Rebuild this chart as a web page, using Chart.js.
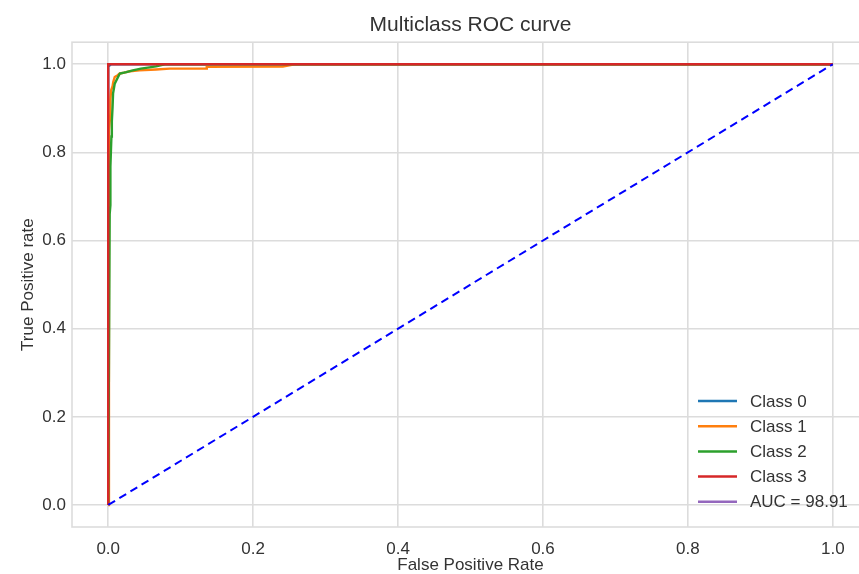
<!DOCTYPE html>
<html>
<head>
<meta charset="utf-8">
<title>Multiclass ROC curve</title>
<script src="https://cdn.jsdelivr.net/npm/chart.js@4.4.0/dist/chart.umd.min.js"></script>
<style>
    html, body { margin: 0; padding: 0; background: #fff; overflow: hidden; }
    #wrap { width: 859px; height: 574px; overflow: hidden; }
</style>
</head>
<body>
<div id="wrap"><canvas id="rocChart" width="880" height="574"></canvas></div>
<script>
// Curve data
const classLabels = ['Class 0', 'Class 1', 'Class 2', 'Class 3'];
const classColors = ['#1f77b4', '#ff7f0e', '#2ca02c', '#d62728'];

const class0Fpr = [0, 0, 0.004, 1];
const class0Tpr = [0, 0.995, 1, 1];

const class1Fpr = [0, 0.001, 0.003, 0.003, 0.004, 0.006, 0.007, 0.009, 0.013, 0.016, 0.022, 0.03, 0.043, 0.066, 0.085, 0.136, 0.136, 0.241, 0.257, 1];
const class1Tpr = [0, 0.85, 0.889, 0.92, 0.941, 0.95, 0.96, 0.971, 0.975, 0.979, 0.981, 0.984, 0.986, 0.988, 0.99, 0.99, 0.994, 0.995, 1, 1];

const class2Fpr = [0, 0.002, 0.003, 0.003, 0.0044, 0.005, 0.006, 0.0067, 0.009, 0.016, 0.025, 0.034, 0.045, 0.057, 0.066, 0.078, 1];
const class2Tpr = [0, 0.66, 0.68, 0.768, 0.836, 0.87, 0.903, 0.934, 0.956, 0.979, 0.982, 0.986, 0.99, 0.993, 0.995, 1, 1];

const class3Fpr = [0, 0, 1];
const class3Tpr = [0, 1, 1];

const chanceFpr = [0, 1];
const chanceTpr = [0, 1];

const aucLabel = 'AUC = 98.91';
const aucColor = '#9467bd';

const xTicks = [0, 0.2, 0.4, 0.6, 0.8, 1.0];
const yTicks = [0, 0.2, 0.4, 0.6, 0.8, 1.0];

const textColor = '#333333';
const gridColor = '#dcdcdc';
const fontFamily = "'Liberation Sans', Arial, sans-serif";

const toPoints = (xs, ys) => xs.map((x, i) => ({ x: x, y: ys[i] }));

const fprs = [class0Fpr, class1Fpr, class2Fpr, class3Fpr];
const tprs = [class0Tpr, class1Tpr, class2Tpr, class3Tpr];

const datasets = classLabels.map((label, i) => ({
    label: label,
    data: toPoints(fprs[i], tprs[i]),
    borderColor: classColors[i],
    borderWidth: 2.4,
    pointRadius: 0,
    tension: 0,
    fill: false,
    order: 4 - i
}));

datasets.push({
    label: aucLabel,
    data: [],
    borderColor: aucColor,
    borderWidth: 2.4,
    pointRadius: 0,
    order: 0
});

datasets.push({
    label: 'chance',
    data: toPoints(chanceFpr, chanceTpr),
    borderColor: '#0000ff',
    borderWidth: 2,
    borderDash: [8, 5],
    pointRadius: 0,
    tension: 0,
    fill: false,
    order: 0
});

// Frame around the plot area
const framePlugin = {
    id: 'frame',
    beforeDatasetsDraw(chart) {
        const { ctx, chartArea: a } = chart;
        ctx.save();
        ctx.strokeStyle = gridColor;
        ctx.lineWidth = 1.6;
        ctx.strokeRect(a.left, a.top, a.right - a.left, a.bottom - a.top);
        ctx.restore();
    }
};

// Legend in the lower right corner, without a box
const legendPlugin = {
    id: 'innerLegend',
    afterDraw(chart) {
        const { ctx, chartArea: a } = chart;
        const labels = classLabels.concat([aucLabel]);
        const colors = classColors.concat([aucColor]);
        ctx.save();
        ctx.font = '17px ' + fontFamily;
        ctx.textBaseline = 'middle';
        ctx.textAlign = 'left';
        labels.forEach((label, i) => {
            const y = a.bottom - 126 + i * 25.2;
            ctx.strokeStyle = colors[i];
            ctx.lineWidth = 2.5;
            ctx.beginPath();
            ctx.moveTo(a.right - 171, y);
            ctx.lineTo(a.right - 132, y);
            ctx.stroke();
            ctx.fillStyle = textColor;
            ctx.fillText(label, a.right - 119, y + 1);
        });
        ctx.restore();
    }
};

const ctx = document.getElementById('rocChart').getContext('2d');
new Chart(ctx, {
    type: 'line',
    data: { datasets: datasets },
    plugins: [framePlugin, legendPlugin],
    options: {
        responsive: false,
        animation: false,
        devicePixelRatio: 1,
        layout: { padding: { left: 0, right: 11, top: 0, bottom: 0 } },
        plugins: {
            legend: { display: false },
            tooltip: { enabled: false },
            title: {
                display: true,
                text: 'Multiclass ROC curve',
                fullSize: false,
                color: textColor,
                font: { family: fontFamily, size: 21, weight: 'normal', lineHeight: 1.2 },
                padding: { top: 13, bottom: 4 }
            }
        },
        scales: {
            x: {
                type: 'linear',
                min: -0.05,
                max: 1.05,
                afterBuildTicks: (scale) => { scale.ticks = xTicks.map(v => ({ value: v })); },
                afterFit: (scale) => { scale.height = 47; },
                grid: { color: gridColor, lineWidth: 1.6, drawTicks: false },
                border: { display: false },
                ticks: {
                    color: textColor,
                    padding: 12,
                    maxRotation: 0,
                    font: { family: fontFamily, size: 17 },
                    callback: (v) => Number(v).toFixed(1)
                },
                title: {
                    display: true,
                    text: 'False Positive Rate',
                    color: textColor,
                    font: { family: fontFamily, size: 17, lineHeight: 1 },
                    padding: { top: 0, bottom: 0 }
                }
            },
            y: {
                type: 'linear',
                min: -0.05,
                max: 1.05,
                afterBuildTicks: (scale) => { scale.ticks = yTicks.map(v => ({ value: v })); },
                afterFit: (scale) => { scale.width = 72; },
                grid: { color: gridColor, lineWidth: 1.6, drawTicks: false },
                border: { display: false },
                ticks: {
                    color: textColor,
                    padding: 6,
                    font: { family: fontFamily, size: 17 },
                    callback: (v) => Number(v).toFixed(1)
                },
                title: {
                    display: true,
                    text: 'True Positive rate',
                    color: textColor,
                    font: { family: fontFamily, size: 17, lineHeight: 1 },
                    padding: { top: 20, bottom: 0 }
                }
            }
        }
    }
});
</script>
</body>
</html>
